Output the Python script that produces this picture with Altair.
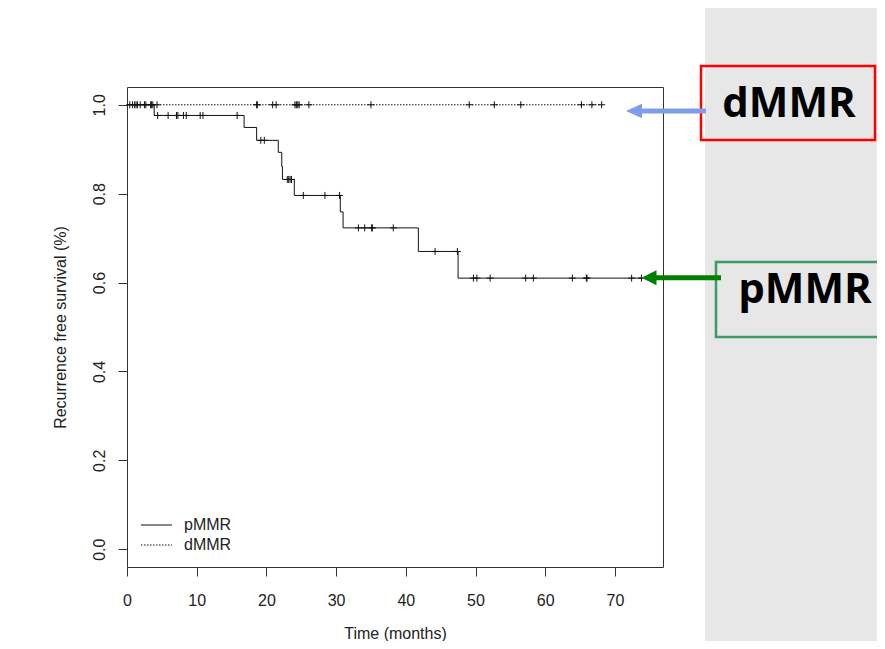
import altair as alt
import pandas as pd

# ---------------- data ----------------
groups = ["pMMR", "dMMR"]

pmmr_event_times = [3.9, 16.8, 18.6, 21.7, 22.2, 22.3, 24.0, 30.6, 31.0, 41.8, 47.5]
pmmr_survival = [0.976, 0.949, 0.920, 0.893, 0.861, 0.832, 0.796, 0.759, 0.723, 0.670, 0.610]
pmmr_last_time = 73.8
pmmr_censor_times = [4.4, 5.9, 7.1, 7.3, 8.1, 8.5, 10.5, 10.9, 15.8, 19.2, 19.7,
                     23.0, 23.2, 23.4, 23.6, 25.3, 28.4, 30.5, 33.2, 34.1, 35.1, 35.2,
                     38.2, 44.2, 47.4, 49.7, 50.2, 52.1, 57.2, 58.3, 63.9, 65.9, 66.0,
                     72.4, 73.8]

dmmr_last_time = 68.1
dmmr_censor_times = [0.4, 0.8, 1.1, 1.3, 1.5, 1.9, 2.5, 2.7, 3.4, 3.5, 3.7, 4.3,
                     18.6, 18.7, 20.9, 21.4, 24.1, 24.3, 24.5, 24.7, 26.1, 35.0,
                     49.1, 52.7, 56.5, 65.2, 66.7, 68.1]

x_ticks = [0, 10, 20, 30, 40, 50, 60, 70]
y_ticks = [0.0, 0.2, 0.4, 0.6, 0.8, 1.0]

x_title = "Time (months)"
y_title = "Recurrence free survival (%)"


def surv_at(t, times, surv):
    s = 1.0
    for et, sv in zip(times, surv):
        if et <= t:
            s = sv
    return s


# curve tables
p_t = [0.0] + pmmr_event_times + [pmmr_last_time]
p_s = [1.0] + pmmr_survival + [pmmr_survival[-1]]
curve_p = pd.DataFrame({"time": p_t, "surv": p_s, "group": groups[0]})
curve_d = pd.DataFrame({"time": [0.0, dmmr_last_time], "surv": [1.0, 1.0], "group": groups[1]})

cens_p = pd.DataFrame({"time": pmmr_censor_times,
                       "surv": [surv_at(t, pmmr_event_times, pmmr_survival) for t in pmmr_censor_times]})
cens_d = pd.DataFrame({"time": dmmr_censor_times, "surv": [1.0] * len(dmmr_censor_times)})

# ---------------- styling ----------------
FONT = "Liberation Sans"
INK = "#111111"
FS = 16
xscale = alt.Scale(domain=[0, 76.9], nice=False, zero=False)
yscale = alt.Scale(domain=[-0.04, 1.04], nice=False, zero=False)

xaxis = alt.Axis(values=x_ticks, format="d", tickSize=9, labelPadding=16, domain=False,
                 grid=False, labelFont=FONT, labelFontSize=FS, labelColor="#222222",
                 tickColor="#333333", labelFlush=False, labelOverlap=False,
                 title=x_title, titleFont=FONT, titleFontSize=FS, titleFontWeight="normal",
                 titleColor="#222222", titleY=71, titleBaseline="alphabetic")
yaxis = alt.Axis(values=y_ticks, format=".1f", tickSize=9, labelPadding=14, domain=False,
                 grid=False, labelFont=FONT, labelFontSize=FS, labelColor="#222222",
                 tickColor="#333333", labelFlush=False, labelOverlap=False,
                 labelAngle=270, labelAlign="center", labelBaseline="alphabetic",
                 title=y_title, titleFont=FONT, titleFontSize=FS, titleFontWeight="normal",
                 titleColor="#222222", titleAngle=270, titleX=-67, titleY=240,
                 titleAlign="center", titleBaseline="middle")

one = pd.DataFrame({"k": [0]})

# gray slide panel on the right
panel = alt.Chart(one).mark_rect(color="#e7e7e7").encode(
    x=alt.value(578), x2=alt.value(760), y=alt.value(-90), y2=alt.value(570))

line_p = alt.Chart(curve_p).mark_line(interpolate="step-after", color=INK, strokeWidth=1).encode(
    x=alt.X("time:Q", scale=xscale, axis=xaxis),
    y=alt.Y("surv:Q", scale=yscale, axis=yaxis))

line_d = alt.Chart(curve_d).mark_line(interpolate="step-after", color=INK, strokeWidth=1,
                                      strokeDash=[1.5, 1.5]).encode(
    x=alt.X("time:Q", scale=xscale),
    y=alt.Y("surv:Q", scale=yscale))

CROSS = "M-1,0L1,0M0,-1L0,1"
pts_p = alt.Chart(cens_p).mark_point(shape=CROSS, size=49, filled=False, strokeWidth=1,
                                     color=INK, opacity=1).encode(
    x=alt.X("time:Q", scale=xscale), y=alt.Y("surv:Q", scale=yscale))
pts_d = alt.Chart(cens_d).mark_point(shape=CROSS, size=49, filled=False, strokeWidth=1,
                                     color=INK, opacity=1).encode(
    x=alt.X("time:Q", scale=xscale), y=alt.Y("surv:Q", scale=yscale))

# legend (R style, inside box, bottom-left)
leg_layers = []
for i, (g, dash) in enumerate(zip(groups, [[1, 0], [1.5, 1.5]])):
    yy = 438 + 20 * i
    leg_layers.append(alt.Chart(one).mark_rule(color=INK, strokeWidth=1, strokeDash=dash).encode(
        x=alt.value(14), x2=alt.value(45), y=alt.value(yy)))
    leg_layers.append(alt.Chart(one).mark_text(font=FONT, fontSize=FS, color="#222222",
                                               align="left", baseline="middle").encode(
        x=alt.value(57), y=alt.value(yy), text=alt.value(g)))

# annotations: boxes, labels, arrows
ann = []
# dMMR box
ann.append(alt.Chart(one).mark_rect(fillOpacity=0, stroke="#ff0000", strokeWidth=2.5).encode(
    x=alt.value(574), x2=alt.value(748), y=alt.value(-21), y2=alt.value(53)))
ann.append(alt.Chart(one).mark_text(font="Open Sans", fontWeight="bold", fontSize=42, color="#000000",
                                    align="center", baseline="alphabetic").encode(
    x=alt.value(662), y=alt.value(30), text=alt.value(groups[1])))
# pMMR box
ann.append(alt.Chart(one).mark_rect(fillOpacity=0, stroke="#3a9a6a", strokeWidth=2.5).encode(
    x=alt.value(589), x2=alt.value(770), y=alt.value(175), y2=alt.value(250)))
ann.append(alt.Chart(one).mark_text(font="Open Sans", fontWeight="bold", fontSize=42, color="#000000",
                                    align="center", baseline="alphabetic").encode(
    x=alt.value(678), y=alt.value(216), text=alt.value(groups[0])))
# blue arrow (dMMR)
ann.append(alt.Chart(one).mark_rule(color="#7f9de8", strokeWidth=5).encode(
    x=alt.value(513), x2=alt.value(579), y=alt.value(24)))
ann.append(alt.Chart(one).mark_point(shape="M-1,0L1,-0.9L1,0.9Z", size=256, filled=True,
                                     color="#7f9de8", opacity=1).encode(
    x=alt.value(507), y=alt.value(24)))
# green arrow (pMMR)
ann.append(alt.Chart(one).mark_rule(color="#008000", strokeWidth=5).encode(
    x=alt.value(527), x2=alt.value(594), y=alt.value(190.7)))
ann.append(alt.Chart(one).mark_point(shape="M-1,0L1,-1L1,1Z", size=225, filled=True,
                                     color="#008000", opacity=1).encode(
    x=alt.value(522), y=alt.value(190.7)))

chart = alt.layer(panel, line_p, line_d, pts_p, pts_d, *leg_layers, *ann).properties(
    width=536, height=480,
    autosize=alt.AutoSizeParams(type="none"),
    padding={"left": 119, "top": 79, "right": 214, "bottom": 74},
    background="white",
).configure_view(stroke="#333333", strokeWidth=1)

chart.save("out.html", embed_options={"renderer": "svg", "actions": False})
